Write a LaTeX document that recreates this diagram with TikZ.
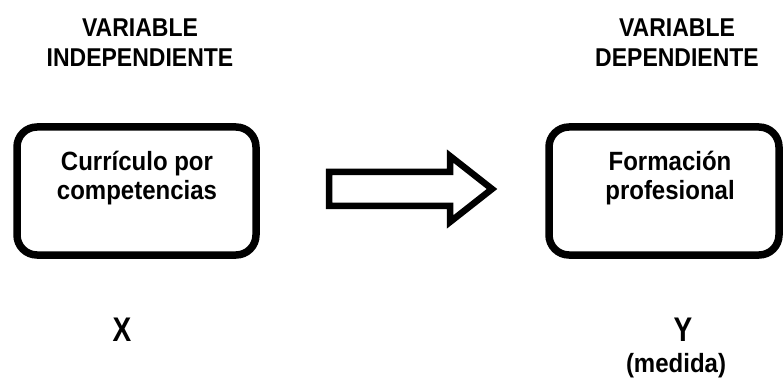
\documentclass[tikz,border=0pt]{standalone}
\usepackage{fontspec}
\setmainfont{Liberation Sans}
\begin{document}
\begin{tikzpicture}[x=1pt,y=-1pt,
  box/.style={draw=black,line width=7.5pt,rounded corners=20pt},
  head/.style={font=\fontsize{23}{27}\selectfont\bfseries,align=center,inner sep=0pt,yscale=1.12,transform shape},
  inner/.style={font=\fontsize{24}{26}\selectfont\bfseries,align=center,inner sep=0pt,yscale=1.1,transform shape},
  letter/.style={font=\fontsize{28}{30}\selectfont\bfseries,inner sep=0pt,yscale=1.22,transform shape},
  small/.style={font=\fontsize{24}{26}\selectfont\bfseries,inner sep=0pt,yscale=1.1,transform shape}]
\useasboundingbox (0,0) rectangle (783,379);
% boxes
\draw[box] (17,127) rectangle (256,255);
\draw[box] (549,127) rectangle (779,255);
% box texts
\node[inner] (t1) at (137,178) {Currículo por\\competencias};
\node[inner] (t2) at (670,178) {Formación\\profesional};
% headings
\node[head] (h1) at (140,43) {VARIABLE\\INDEPENDIENTE};
\node[head] (h2) at (677,43) {VARIABLE\\DEPENDIENTE};
% block arrow
\draw[line width=6.5pt,line join=miter,miter limit=10]
  (329,172) -- (450,172) -- (450,156) -- (492,189) -- (450,222) -- (450,206) -- (329,206) -- cycle;
% X and Y
\node[letter] (x) at (122,330) {X};
\node[letter] (y) at (683,330) {Y};
\node[small] (m) at (676,366) {(medida)};
\end{tikzpicture}
\end{document}
